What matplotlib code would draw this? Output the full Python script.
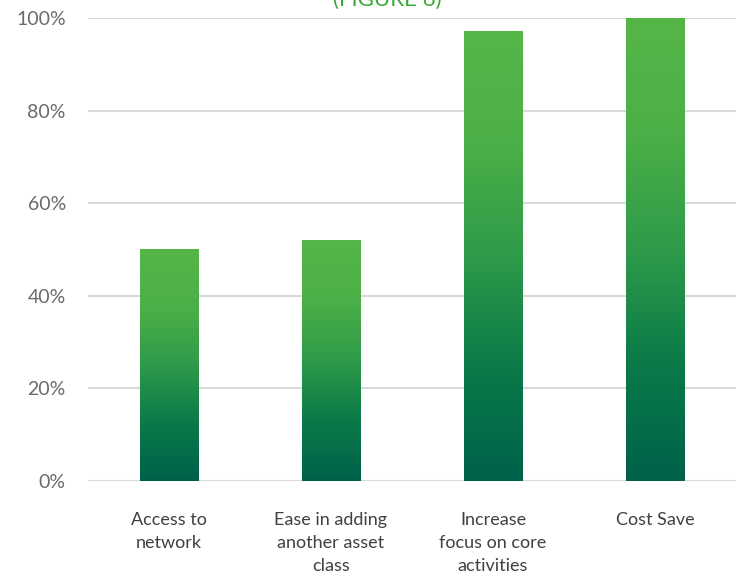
import matplotlib
matplotlib.use("Agg")
import matplotlib.pyplot as plt
import numpy as np
from matplotlib.colors import LinearSegmentedColormap

categories = ["Access to\nnetwork", "Ease in adding\nanother asset\nclass", "Increase\nfocus on core\nactivities", "Cost Save"]
values = [50, 52, 97, 100]
yticks = [0, 20, 40, 60, 80, 100]
ytick_labels = ["0%", "20%", "40%", "60%", "80%", "100%"]

plt.rcParams['font.family'] = ['Lato', 'DejaVu Sans']

fig = plt.figure(figsize=(7.36, 5.76), dpi=100)
ax = fig.add_axes([88/736, 95/576, 648/736, 463/576])

cmap = LinearSegmentedColormap.from_list("g", ["#00614b", "#0a7a48", "#2f9a4a", "#4bb047", "#55b648"])
x = np.arange(len(categories))
bars = ax.bar(x, values, width=0.36, color="none", zorder=3)
grad = np.linspace(0, 1, 256).reshape(-1, 1)
for b in bars:
    x0, y0 = b.get_x(), b.get_y()
    w, h = b.get_width(), b.get_height()
    ax.imshow(grad, extent=[x0, x0 + w, y0, y0 + h], origin="lower", cmap=cmap,
              aspect="auto", zorder=3, interpolation="bicubic")

ax.set_xlim(-0.5, 3.5)
ax.set_ylim(0, 100)
ax.set_yticks(yticks)
ax.set_yticklabels(ytick_labels, fontsize=14, color="#6a6a6a")
ax.set_xticks(x)
ax.set_xticklabels(categories, fontsize=13, color="#404040", linespacing=1.55)
ax.tick_params(axis="both", length=0)
ax.tick_params(axis="x", pad=22)
ax.tick_params(axis="y", pad=16)
ax.grid(axis="y", color="#d9d9d9", linewidth=1.5, zorder=0)
ax.set_axisbelow(True)
for s in ax.spines.values():
    s.set_visible(False)

fig.text(387/736, 1.0, "(FIGURE 6)", ha="center", va="center", fontsize=16,
         color="#3aaa35")

fig.savefig("out.png", dpi=100)
